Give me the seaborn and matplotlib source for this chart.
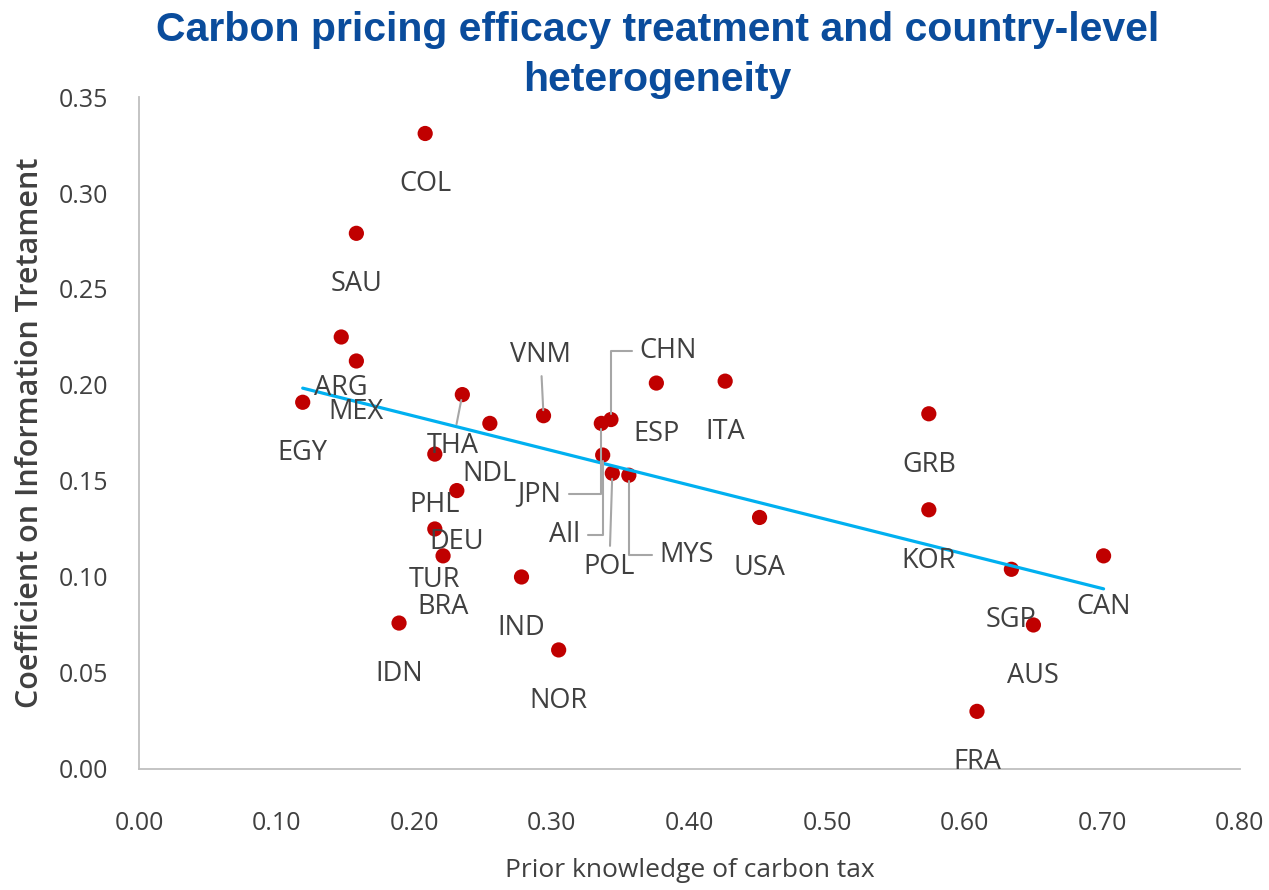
import numpy as np
import pandas as pd
import matplotlib
matplotlib.use("Agg")
import matplotlib.pyplot as plt
import seaborn as sns

# Country-level estimates
countries = ["COL", "SAU", "ARG", "MEX", "EGY", "THA", "NDL", "PHL", "DEU", "TUR",
             "BRA", "IDN", "IND", "NOR", "VNM", "CHN", "JPN", "All", "POL", "MYS",
             "ESP", "ITA", "USA", "GRB", "KOR", "SGP", "AUS", "CAN", "FRA"]
prior_knowledge = [0.208, 0.158, 0.147, 0.158, 0.119, 0.235, 0.255, 0.215, 0.231, 0.215,
                   0.221, 0.189, 0.278, 0.305, 0.294, 0.343, 0.336, 0.337, 0.344, 0.356,
                   0.376, 0.426, 0.451, 0.574, 0.574, 0.634, 0.650, 0.701, 0.609]
coefficient = [0.331, 0.279, 0.225, 0.2125, 0.191, 0.195, 0.180, 0.164, 0.145, 0.125,
               0.111, 0.076, 0.100, 0.062, 0.184, 0.182, 0.180, 0.1635, 0.154, 0.153,
               0.201, 0.202, 0.131, 0.185, 0.135, 0.104, 0.075, 0.111, 0.030]

# label offsets in pixels (dx, dy) and leader-line style
label_offsets = {
    "THA": (-10, -51, "arc3"),
    "VNM": (-3, 61, "arc3"),
    "CHN": (57, 69, "angle,angleA=0,angleB=90,rad=0"),
    "JPN": (-62, -71, "angle,angleA=0,angleB=90,rad=0"),
    "All": (-38, -80, "angle,angleA=0,angleB=90,rad=0"),
    "POL": (-3, -94, "arc3"),
    "MYS": (58, -80, "angle,angleA=0,angleB=90,rad=0"),
}

df = pd.DataFrame({"country": countries, "x": prior_knowledge, "y": coefficient})

sns.set_style("white")
plt.rcParams["font.family"] = ["Open Sans", "DejaVu Sans"]

fig = plt.figure(figsize=(12.69, 8.90), dpi=100)
ax = fig.add_axes([0.1095, 0.136, 0.8675, 0.755])

sns.scatterplot(data=df, x="x", y="y", color="#c00000", s=120, edgecolor="none",
                ax=ax, zorder=2)
sns.regplot(data=df, x="x", y="y", scatter=False, ci=None, ax=ax,
            line_kws={"color": "#00b0f0", "lw": 2.3, "zorder": 3})

label_color = "#404040"
for name, xv, yv in zip(countries, prior_knowledge, coefficient):
    if name in label_offsets:
        dx, dy, style = label_offsets[name]
        ax.annotate(name, (xv, yv), xytext=(dx, dy), textcoords="offset pixels",
                    ha="center", va="center", fontsize=19.5, color=label_color,
                    arrowprops=dict(arrowstyle="-", color="#a6a6a6", lw=1.5,
                                    connectionstyle=style, shrinkA=3, shrinkB=4),
                    zorder=4)
    else:
        ax.annotate(name, (xv, yv), xytext=(0, -51), textcoords="offset pixels",
                    ha="center", va="center", fontsize=19.5, color=label_color, zorder=4)

ax.set_xlim(0, 0.80)
ax.set_ylim(0, 0.35)
ax.set_xticks(np.arange(0, 0.81, 0.1))
ax.set_yticks(np.arange(0, 0.351, 0.05))
ax.set_xticklabels([f"{v:.2f}" for v in np.arange(0, 0.81, 0.1)])
ax.set_yticklabels([f"{v:.2f}" for v in np.arange(0, 0.351, 0.05)])
ax.tick_params(axis="both", length=0, labelsize=18, labelcolor="#404040")
ax.tick_params(axis="x", pad=30)
ax.tick_params(axis="y", pad=22)

sns.despine(ax=ax)
for side in ["left", "bottom"]:
    ax.spines[side].set_color("#bfbfbf")
    ax.spines[side].set_linewidth(1.3)

ax.set_xlabel("Prior knowledge of carbon tax", fontsize=19, color="#404040", labelpad=16)
ax.set_ylabel("Coefficient on Information Tretament", fontsize=22, color="#404040",
              fontweight="semibold", labelpad=10)

fig.text(0.518, 0.988, "Carbon pricing efficacy treatment and country-level\nheterogeneity",
         ha="center", va="top", fontsize=29.5, fontweight="bold", color="#0a4c9c",
         family=["Liberation Sans", "DejaVu Sans"], linespacing=1.4)

fig.savefig("out.png", dpi=100)
